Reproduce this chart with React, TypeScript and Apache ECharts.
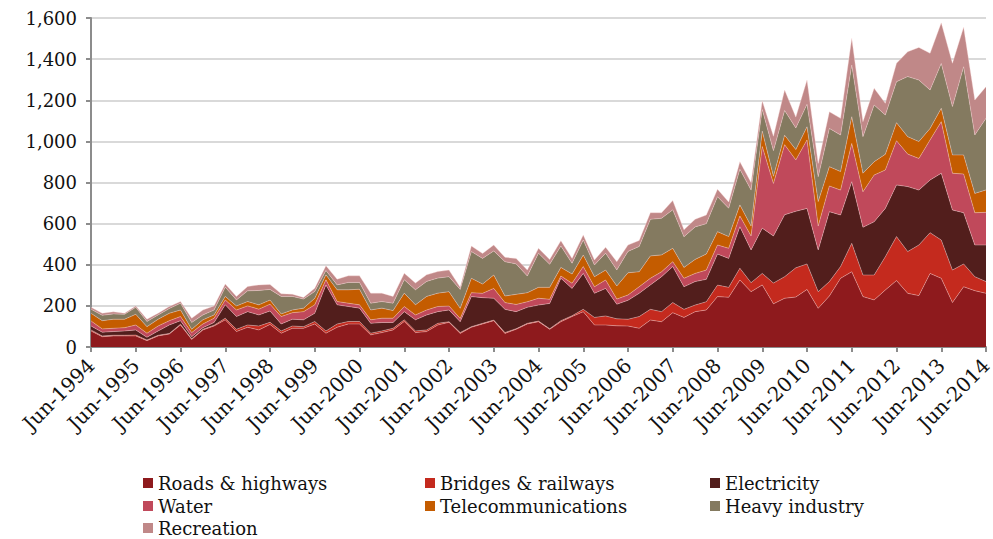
import React, { useEffect, useRef } from "react";
import * as echarts from "echarts";

const quarterMonths = ["Jun", "Sep", "Dec", "Mar"];
const categories: string[] = [];
for (let i = 0; i <= 80; i++) {
  const m = quarterMonths[i % 4];
  const y = 1994 + Math.floor(i / 4) + (i % 4 === 3 ? 1 : 0);
  categories.push(`${m}-${y}`);
}

const seriesNames = [
  "Roads & highways",
  "Bridges & railways",
  "Electricity",
  "Water",
  "Telecommunications",
  "Heavy industry",
  "Recreation",
];

const roads = [78,50,54,54,54,31,54,63,107,37,83,102,132,75,96,83,110,67,91,91,112,67,96,112,112,59,70,83,124,70,75,107,120,66,96,112,128,66,86,112,123,86,123,148,172,107,107,103,102,91,131,123,167,144,172,180,245,242,326,269,302,210,237,243,280,188,248,334,366,245,229,277,323,261,250,358,334,216,293,274,261];
const bridges = [5,4,3,3,4,3,3,3,4,3,3,4,8,11,11,19,10,11,11,8,12,11,16,12,12,8,8,8,8,8,8,8,3,4,3,3,3,4,3,3,3,3,5,4,11,37,44,34,33,57,52,49,49,39,32,40,56,48,57,44,56,101,105,142,124,81,70,57,138,105,121,162,214,203,246,198,186,158,111,68,57];
const electricity = [19,18,18,21,25,13,21,41,17,10,8,13,65,62,65,54,55,34,33,33,40,224,93,73,65,48,41,28,40,54,73,57,57,53,146,125,106,113,83,78,78,123,206,133,175,117,134,71,92,113,119,170,175,110,114,109,151,141,202,159,220,229,301,275,270,203,340,251,300,232,259,235,251,316,267,256,325,292,249,154,178];
const water = [25,16,16,16,24,20,24,21,20,20,18,21,24,32,28,28,33,36,32,40,41,25,16,16,16,17,21,21,25,24,24,25,19,16,19,21,48,33,35,27,33,20,11,25,33,32,41,25,26,32,32,24,24,41,40,45,44,49,52,68,397,255,341,250,333,116,125,121,186,173,227,187,215,158,154,195,251,179,188,157,159];
const telecom = [37,40,44,41,52,32,33,36,32,16,20,16,17,20,21,21,20,13,13,17,32,24,57,65,76,48,49,37,65,49,66,65,70,49,70,45,65,32,49,44,53,58,42,45,56,49,48,64,108,73,109,82,65,53,68,78,65,57,54,48,75,35,46,50,64,119,94,90,130,90,65,76,88,85,82,56,65,89,93,94,109];
const heavy = [20,26,26,24,34,25,21,23,33,33,24,24,45,29,52,70,52,85,66,44,33,21,24,36,33,33,32,36,65,73,73,73,73,92,130,125,117,167,148,81,166,112,104,52,73,57,82,78,104,123,178,178,187,149,158,148,170,138,173,175,105,125,120,105,109,121,186,178,251,178,276,191,199,292,299,187,218,235,429,284,348];
const recreation = [9,10,10,5,7,11,8,10,8,21,24,20,15,17,21,27,24,13,11,8,16,23,28,32,32,49,41,33,32,33,32,32,32,10,27,24,29,21,27,29,24,24,26,24,25,24,29,40,31,29,32,27,45,34,37,42,36,30,37,37,42,70,100,53,118,65,81,81,130,73,81,57,90,121,159,178,198,211,192,170,154];

const yTicks = [0, 200, 400, 600, 800, 1000, 1200, 1400, 1600];

const colors = ["#8e1a1d", "#c42a1e", "#521e1c", "#c0495b", "#c45c00", "#847a60", "#c08888"];

// legend grid: column lefts and row tops
const legendCols = [143, 425, 710];
const legendRows = [473, 496, 518];
const legendCell = [
  [0, 0], [1, 0], [2, 0],
  [0, 1], [1, 1], [2, 1],
  [0, 2],
];

const FONT = "DejaVu Serif";

export default function App() {
  const ref = useRef<HTMLDivElement>(null);
  useEffect(() => {
    if (!ref.current) return;
    const chart = echarts.init(ref.current, undefined, { renderer: "svg" });
    const data = [roads, bridges, electricity, water, telecom, heavy, recreation];
    chart.setOption({
      animation: false,
      backgroundColor: "#fff",
      color: colors,
      grid: { left: 91, right: 7, top: 18, bottom: 192, containLabel: false, outerBoundsMode: "none" },
      legend: seriesNames.map((name, k) => ({
        orient: "horizontal",
        left: legendCols[legendCell[k][0]],
        top: legendRows[legendCell[k][1]],
        icon: "rect",
        itemWidth: 10,
        itemHeight: 10,
        padding: 0,
        selectedMode: false,
        textStyle: { fontFamily: FONT, fontSize: 18, color: "#111", lineHeight: 20 },
        data: [name],
      })),
      xAxis: {
        type: "category",
        data: categories,
        boundaryGap: false,
        axisLine: { lineStyle: { color: "#8c8c8c", width: 2 } },
        axisTick: { interval: 3, length: 5, lineStyle: { color: "#8c8c8c", width: 2 } },
        axisLabel: {
          interval: 3,
          rotate: 45,
          margin: 15,
          fontFamily: FONT,
          fontSize: 20,
          color: "#111",
        },
        splitLine: { show: false },
      },
      yAxis: {
        type: "value",
        min: yTicks[0],
        max: yTicks[yTicks.length - 1],
        interval: 200,
        axisLine: { show: true, lineStyle: { color: "#8c8c8c", width: 2 } },
        axisTick: { show: true, length: 5, lineStyle: { color: "#8c8c8c", width: 2 } },
        axisLabel: {
          margin: 14,
          fontFamily: FONT,
          fontSize: 18,
          color: "#111",
          formatter: (v: number) => v.toLocaleString("en-US"),
        },
        splitLine: { show: true, lineStyle: { color: "#d9d9d9", width: 2 } },
      },
      series: data.map((d, k) => ({
        name: seriesNames[k],
        type: "line",
        stack: "total",
        data: d,
        showSymbol: false,
        symbol: "none",
        lineStyle: { width: 0.8, color: "rgba(255,220,220,0.45)" },
        areaStyle: { color: colors[k], opacity: 1 },
        itemStyle: { color: colors[k] },
        emphasis: { disabled: true },
      })),
    });
    return () => chart.dispose();
  }, []);
  return (
    <div
      ref={ref}
      style={{ position: "fixed", left: 0, top: 0, width: 993, height: 539 }}
    />
  );
}
